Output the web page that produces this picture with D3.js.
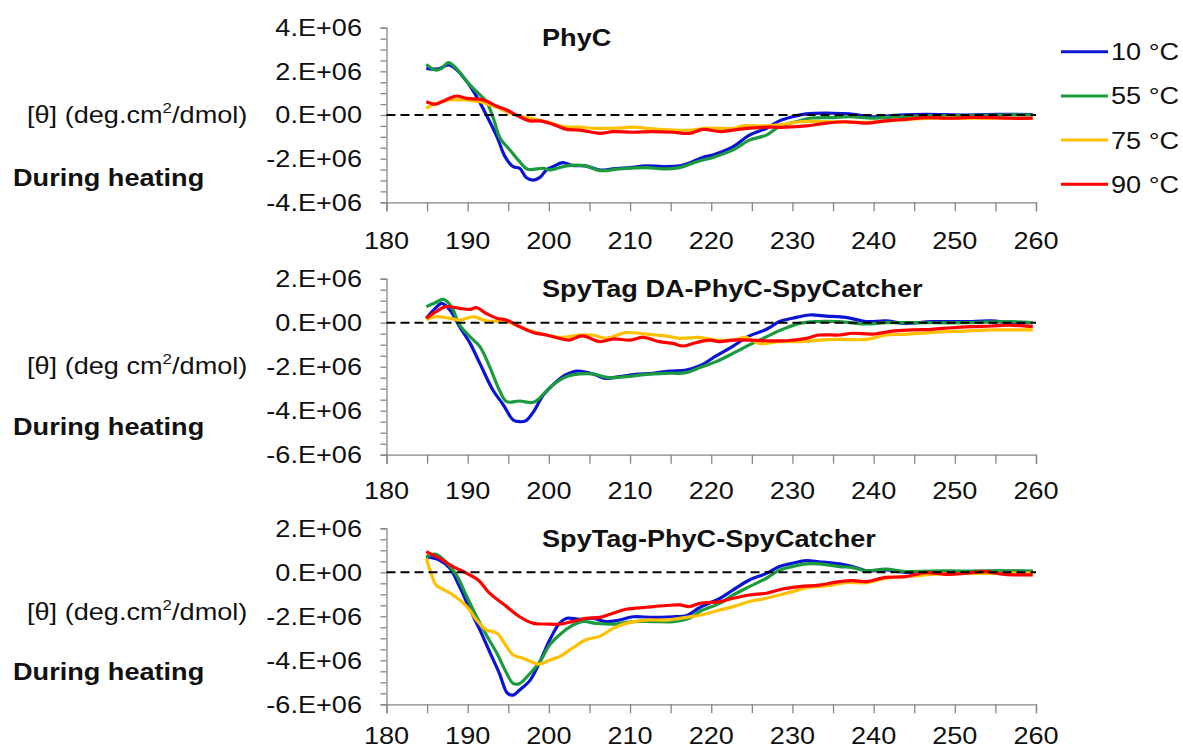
<!DOCTYPE html>
<html>
<head>
<meta charset="utf-8">
<script src="https://cdn.jsdelivr.net/npm/d3@7"></script>
<style>
  html, body { margin: 0; padding: 0; background: #ffffff; }
  svg { display: block; font-family: "Liberation Sans", Arial, sans-serif; }
</style>
</head>
<body>
<svg id="chart" width="1183" height="748"></svg>
<script>
// CD spectra (mean residue ellipticity, in units of 1E6 deg·cm²/dmol) recorded during heating.
// Each series: [wavelength (nm), value].

const temperatures = ["10 °C", "55 °C", "75 °C", "90 °C"];
const seriesColors = ["#0a14d2", "#1b9a3e", "#ffc000", "#ff0000"];
const xTickValues = [180, 190, 200, 210, 220, 230, 240, 250, 260];

// Panel 1: PhyC
const phyc10 = [[184.9,2.14],[186.4,2.11],[187.6,2.29],[188.6,2.09],[189.9,1.53],[191.1,0.84],[192.3,0],[193.6,-0.99],[194.6,-1.91],[195.6,-2.37],[196.4,-2.44],[197.2,-2.86],[198.1,-2.98],[198.9,-2.86],[199.7,-2.52],[200.5,-2.37],[201.7,-2.18],[202.9,-2.31],[204.5,-2.33],[206.3,-2.52],[207.9,-2.47],[210,-2.41],[212,-2.33],[214,-2.36],[216.1,-2.33],[217.3,-2.2],[219,-1.94],[220.2,-1.83],[222.7,-1.45],[224.7,-0.92],[226.8,-0.61],[228.4,-0.27],[230,-0.08],[231.7,0.05],[235,0.08],[237,0.05],[239.9,-0.08],[243.2,0],[246.4,0.03],[251.2,0],[255.3,0.03],[259.6,0.02]];
const phyc55 = [[184.9,2.32],[186,2.06],[186.8,2.14],[187.6,2.4],[188.6,2.14],[189.9,1.53],[191.1,1.07],[192.3,0.61],[193.1,-0.08],[194,-1.07],[195.2,-1.6],[196.4,-2.14],[197.4,-2.49],[199.3,-2.44],[200.1,-2.52],[202.2,-2.33],[204.5,-2.33],[206.3,-2.55],[208.7,-2.47],[212,-2.41],[214,-2.47],[216.1,-2.41],[218.2,-2.14],[220.4,-1.92],[222.7,-1.6],[224.7,-1.15],[226.8,-0.92],[228.4,-0.53],[230.4,-0.31],[232.1,-0.15],[235,-0.12],[237,-0.08],[239.9,-0.15],[243.2,-0.08],[247.2,-0.03],[251.2,-0.03],[255.3,0],[259.6,0]];
const phyc75 = [[184.9,0.31],[186.1,0.53],[187.8,0.69],[189.4,0.69],[191.5,0.61],[193.6,0.35],[195.6,0.03],[197.7,-0.15],[199.7,-0.31],[201.7,-0.53],[203.8,-0.56],[205.8,-0.61],[207.9,-0.61],[210.4,-0.56],[212.8,-0.64],[215.3,-0.69],[217.7,-0.69],[219.3,-0.61],[220.6,-0.61],[222.7,-0.61],[223.9,-0.5],[226.8,-0.5],[228.8,-0.43],[230.9,-0.31],[235,-0.31],[239,-0.34],[243.2,-0.23],[247.2,-0.15],[251.2,-0.15],[255.3,-0.15],[259.6,-0.15]];
const phyc90 = [[184.9,0.61],[186.1,0.5],[187.3,0.69],[188.6,0.87],[189.9,0.76],[191.5,0.72],[192.3,0.64],[193.6,0.4],[194.8,0.23],[196.4,-0.08],[197.7,-0.27],[198.9,-0.27],[200.5,-0.43],[202.2,-0.66],[203.8,-0.69],[206.3,-0.84],[207.9,-0.76],[210.4,-0.79],[212.8,-0.76],[215.3,-0.79],[217.3,-0.84],[219,-0.66],[221.1,-0.76],[222.7,-0.69],[224.3,-0.61],[226.8,-0.56],[229.2,-0.56],[231.7,-0.5],[234.2,-0.37],[236.6,-0.31],[239,-0.37],[241.5,-0.27],[243.9,-0.2],[246.4,-0.12],[249.2,-0.15],[252,-0.11],[254.5,-0.12],[256.9,-0.15],[259.6,-0.15]];

// Panel 2: SpyTag DA-PhyC-SpyCatcher
const da10 = [[184.9,0.2],[186,0.65],[186.8,0.88],[187.8,0.58],[189,-0.18],[190.3,-0.94],[191.5,-1.85],[193.1,-3.06],[194.4,-3.74],[195.6,-4.42],[196.4,-4.5],[197.2,-4.45],[198.1,-4.05],[199.3,-3.29],[200.5,-2.83],[201.7,-2.45],[203.4,-2.2],[204.5,-2.24],[205.8,-2.38],[207,-2.53],[208.7,-2.45],[210.7,-2.35],[212.8,-2.3],[214.8,-2.2],[216.9,-2.15],[218.6,-1.96],[220.6,-1.51],[222.7,-1.06],[224.7,-0.6],[226.8,-0.3],[228.4,0.05],[230,0.2],[232.1,0.35],[234.2,0.3],[236.6,0.24],[239.1,0.05],[241.5,0.08],[243.9,-0.03],[247.2,0.05],[251.2,0.05],[254.5,0.08],[256.9,0],[259.6,0]];
const da55 = [[184.9,0.73],[186,0.91],[187,1.06],[188,0.73],[189,-0.1],[190.3,-0.64],[191.5,-1.09],[192.7,-2.0],[193.9,-3.06],[194.8,-3.59],[196.4,-3.56],[198.1,-3.62],[199.3,-3.26],[200.5,-2.83],[202.2,-2.45],[203.8,-2.33],[205.4,-2.33],[207.4,-2.5],[209.5,-2.45],[212,-2.35],[214.4,-2.3],[216.9,-2.27],[218.6,-2.04],[220.6,-1.77],[222.7,-1.39],[224.7,-1.01],[226.8,-0.64],[228.8,-0.3],[230.9,-0.03],[232.9,0.05],[235.8,0.05],[239.1,-0.06],[241.5,0],[245.2,0],[251.2,0],[256.9,0.05],[259.6,0]];
const da75 = [[184.9,0.15],[186.1,0.27],[187.8,0.2],[189,0.12],[190.7,0.27],[192.3,0.08],[194.8,0.05],[196.4,-0.18],[198.1,-0.41],[199.7,-0.56],[201.7,-0.67],[203.8,-0.56],[205.4,-0.56],[207,-0.71],[209.5,-0.45],[212,-0.52],[214.4,-0.6],[216.1,-0.71],[218.5,-0.67],[220.6,-0.79],[222.7,-0.79],[224.3,-0.67],[225.9,-0.94],[228.4,-0.86],[230.9,-0.86],[233.3,-0.79],[235.8,-0.76],[239.1,-0.76],[241.5,-0.56],[243.9,-0.53],[247.2,-0.44],[251.2,-0.38],[254.5,-0.33],[257.7,-0.33],[259.6,-0.33]];
const da90 = [[184.9,0.2],[186.1,0.5],[187.3,0.73],[189,0.65],[190.3,0.61],[191.1,0.68],[192.3,0.42],[193.6,0.2],[194.8,0.12],[196.4,-0.18],[198.1,-0.45],[199.7,-0.56],[201.3,-0.71],[202.5,-0.79],[204.1,-0.6],[206.3,-0.86],[207.9,-0.74],[210,-0.79],[211.6,-0.67],[213.6,-0.86],[215.3,-0.94],[216.5,-1.06],[218.1,-0.91],[219.8,-0.79],[221,-0.86],[222.7,-0.79],[224.7,-0.79],[226.8,-0.82],[229.2,-0.82],[231.7,-0.71],[233.3,-0.56],[235.8,-0.56],[237.4,-0.48],[239.9,-0.52],[242.3,-0.38],[244.8,-0.33],[247.2,-0.3],[249.6,-0.23],[252,-0.18],[254.5,-0.15],[256.5,-0.11],[259.6,-0.18]];

// Panel 3: SpyTag-PhyC-SpyCatcher
const tag10 = [[184.9,0.71],[186.5,0.56],[187.8,0.18],[189,-0.65],[190.3,-1.71],[191.5,-2.62],[192.7,-3.61],[193.9,-4.59],[194.9,-5.5],[195.6,-5.58],[196.4,-5.35],[197.7,-4.9],[198.9,-4.06],[200.1,-3.08],[201.3,-2.32],[202.2,-2.09],[203.8,-2.14],[205.4,-2.09],[207,-2.24],[208.7,-2.17],[210.4,-2.02],[212.8,-2.05],[215.3,-2.02],[216.9,-1.98],[218.6,-1.6],[221.1,-1.18],[222.7,-0.8],[224.7,-0.35],[226.8,-0.05],[228.4,0.26],[230,0.41],[231.7,0.53],[233.3,0.48],[235.8,0.38],[237.4,0.26],[239.1,0.07],[241.5,0.11],[243.9,0],[247.2,0.03],[251.2,0.03],[255.3,0.06],[259.6,0.03]];
const tag55 = [[184.9,0.71],[186.1,0.82],[187.3,0.48],[188.6,-0.12],[189.9,-1.11],[191.1,-2.02],[192.3,-2.85],[193.6,-3.68],[194.8,-4.59],[195.6,-5.05],[196.4,-5.05],[197.7,-4.59],[198.9,-4.06],[200.1,-3.3],[201.3,-2.85],[202.5,-2.5],[204.1,-2.24],[205.8,-2.32],[207.9,-2.36],[210.4,-2.24],[212.8,-2.24],[215.3,-2.24],[217.3,-2.09],[218.6,-1.78],[221.1,-1.4],[222.7,-1.03],[224.7,-0.65],[226.8,-0.27],[228.4,0.1],[230,0.26],[231.7,0.38],[233.3,0.38],[235.8,0.26],[237.4,0.21],[239.1,0.07],[241.5,0.14],[243.9,0.03],[247.2,0.06],[251.2,0.06],[255.3,0.07],[259.6,0.06]];
const tag75 = [[184.9,0.64],[185.5,-0.05],[186.1,-0.58],[187.1,-0.8],[188.2,-1.03],[189.9,-1.56],[191.1,-2.17],[192.3,-2.62],[193.6,-2.77],[194.8,-3.38],[195.6,-3.76],[196.8,-3.91],[198.1,-4.11],[198.9,-4.17],[200.1,-3.99],[201.3,-3.83],[202.9,-3.45],[204.5,-3.08],[206.3,-2.9],[207.9,-2.55],[209.5,-2.32],[212,-2.17],[214.4,-2.17],[216.9,-2.05],[218.6,-1.95],[221.1,-1.71],[222.7,-1.56],[224.7,-1.33],[226.8,-1.18],[228.4,-1.03],[230,-0.88],[231.7,-0.7],[234.2,-0.62],[236.6,-0.47],[239.1,-0.47],[241.5,-0.27],[243.9,-0.2],[247.2,-0.09],[251.2,-0.05],[255.3,-0.05],[259.6,-0.02]];
const tag90 = [[184.9,0.94],[186.5,0.64],[188.2,0.26],[189.9,-0.05],[191.3,-0.35],[192.7,-0.95],[194.8,-1.56],[196.4,-2.02],[198.1,-2.32],[199.7,-2.35],[201.3,-2.36],[202.9,-2.24],[204.5,-2.09],[206.3,-2.05],[207.9,-1.86],[209.5,-1.68],[212,-1.59],[214.4,-1.51],[216.1,-1.48],[217.3,-1.56],[218.6,-1.41],[221.1,-1.33],[222.7,-1.18],[224.7,-1.03],[226.8,-0.95],[228.8,-0.76],[230.9,-0.65],[233.3,-0.58],[235.8,-0.42],[237.4,-0.38],[239.1,-0.42],[241.5,-0.23],[243.9,-0.2],[246.4,-0.02],[248.8,-0.09],[251.2,-0.05],[253.6,0.03],[256.1,-0.09],[259.6,-0.12]];

const panelTitles = ["PhyC", "SpyTag DA-PhyC-SpyCatcher", "SpyTag-PhyC-SpyCatcher"];
const yDomains = [[-4, 4], [-6, 2], [-6, 2]];
const yLabelUnits = ["(deg.cm", "(deg cm", "(deg.cm"];

const panels = [
  { title: panelTitles[0], domain: yDomains[0], unit: yLabelUnits[0], series: [phyc10, phyc55, phyc75, phyc90],
    top: 27.7, bottom: 202.3, unitY: 115, heatY: 178, xLabelGap: 38 },
  { title: panelTitles[1], domain: yDomains[1], unit: yLabelUnits[1], series: [da10, da55, da75, da90],
    top: 278.7, bottom: 454.7, unitY: 366, heatY: 427, xLabelGap: 36 },
  { title: panelTitles[2], domain: yDomains[2], unit: yLabelUnits[2], series: [tag10, tag55, tag75, tag90],
    top: 528.3, bottom: 704.3, unitY: 612, heatY: 672, xLabelGap: 31 }
];

const svg = d3.select("#chart");
const FS = 24;        // font size
const SX = 1.13;      // horizontal text stretch
const AXIS = "#868686";
const TEXT = "#111111";

function label(g, x, y, str, opts = {}) {
  const t = g.append("text")
    .attr("transform", `translate(${x},${y}) scale(${SX},1)`)
    .attr("font-size", opts.size || FS)
    .attr("font-weight", opts.bold ? "bold" : "normal")
    .attr("fill", TEXT)
    .attr("text-anchor", opts.anchor || "start")
    .attr("dominant-baseline", opts.baseline || "auto");
  if (str !== null) t.text(str);
  return t;
}

const x = d3.scaleLinear().domain([180, 260]).range([386.5, 1036]);

function fmtE(v) {
  if (v === 0) return "0.E+00";
  return (v < 0 ? "-" : "") + Math.abs(v) + ".E+06";
}

panels.forEach((p) => {
  const g = svg.append("g");
  const y = d3.scaleLinear().domain(p.domain).range([p.bottom, p.top]);

  // y axis: ticks every 0.5E6, labels every 2E6
  const yMinor = d3.range(p.domain[0], p.domain[1] + 0.001, 0.5);
  const yAxis = d3.axisLeft(y).tickValues(yMinor).tickSize(6).tickFormat("");
  const ya = g.append("g").attr("transform", `translate(${x(180)},0)`).call(yAxis);
  ya.select(".domain").attr("stroke", AXIS).attr("stroke-width", 1.3);
  ya.selectAll(".tick line").attr("stroke", AXIS).attr("stroke-width", 1.3);

  d3.range(p.domain[0], p.domain[1] + 0.001, 2).forEach((v) => {
    label(g, 362, y(v), fmtE(v), { anchor: "end", baseline: "central" });
  });

  // x axis: ticks every 5 nm, labels every 10 nm
  const xAxis = d3.axisBottom(x).tickValues(d3.range(180, 261, 5)).tickSize(9).tickFormat("");
  const xa = g.append("g").attr("transform", `translate(0,${p.bottom})`).call(xAxis);
  xa.select(".domain").attr("stroke", AXIS).attr("stroke-width", 1.3);
  xa.selectAll(".tick line").attr("stroke", AXIS).attr("stroke-width", 1.3);
  xTickValues.forEach((v) => {
    label(g, x(v), p.bottom + p.xLabelGap, String(v), { anchor: "middle", baseline: "central" });
  });

  // spectra
  const line = d3.line()
    .x((d) => x(d[0]))
    .y((d) => y(d[1]))
    .curve(d3.curveCatmullRom.alpha(0.5));
  p.series.forEach((s, i) => {
    g.append("path")
      .datum(s)
      .attr("d", line)
      .attr("fill", "none")
      .attr("stroke", seriesColors[i])
      .attr("stroke-width", 3.2)
      .attr("stroke-linejoin", "round");
  });

  // zero reference
  g.append("line")
    .attr("x1", x(180)).attr("x2", x(260))
    .attr("y1", y(0)).attr("y2", y(0))
    .attr("stroke", "#000").attr("stroke-width", 2)
    .attr("stroke-dasharray", "9,5");

  // panel title
  label(g, 542, p.top + 0, p.title, { bold: true, baseline: "hanging" })
    .attr("dy", 1);

  // y-axis label
  const ul = label(g, 27, p.unitY, null, { baseline: "central" });
  ul.append("tspan").text("[θ] " + p.unit);
  ul.append("tspan").text("2").attr("font-size", 15).attr("dy", -8);
  ul.append("tspan").text("/dmol)").attr("dy", 8);

  label(g, 13, p.heatY, "During heating", { bold: true, baseline: "central" });
});

// legend
const lg = svg.append("g");
temperatures.forEach((t, i) => {
  const ly = 51.7 + i * 44.2;
  lg.append("line")
    .attr("x1", 1061).attr("x2", 1108)
    .attr("y1", ly).attr("y2", ly)
    .attr("stroke", seriesColors[i]).attr("stroke-width", 3);
  label(lg, 1111, ly, t, { baseline: "central" });
});
</script>
</body>
</html>
